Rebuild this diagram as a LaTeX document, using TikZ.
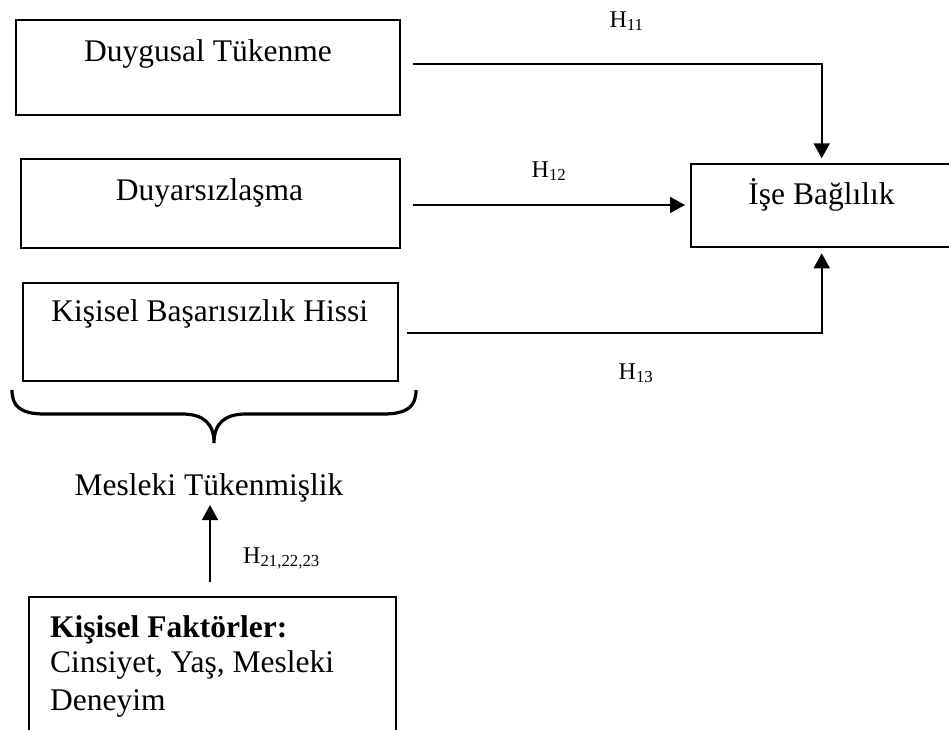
\documentclass[tikz,border=0pt]{standalone}
\usepackage{fontspec}
\setmainfont{Liberation Serif}
\usetikzlibrary{arrows.meta}
\tikzset{
  box/.style={draw, line width=1.8pt, rectangle, inner sep=0pt},
  txt/.style={inner sep=0pt, anchor=base, font=\fontsize{31.5}{36}\selectfont},
  ltxt/.style={inner sep=0pt, anchor=base west, font=\fontsize{31.5}{36}\selectfont},
  hlab/.style={inner sep=0pt, anchor=base, font=\fontsize{24}{28}\selectfont},
  arr/.style={line width=1.7pt, -{Triangle[length=15pt,width=16pt]}},
}
\begin{document}
\begin{tikzpicture}[x=1pt,y=-1pt]
\useasboundingbox (0,0) rectangle (949,729);
\clip (0,0) rectangle (949,729);
\fill[white] (0,0) rectangle (949,729);
% boxes
\node[box, minimum width=384pt, minimum height=95pt] (b1) at (208,67.5) {};
\node[box, minimum width=379.3pt, minimum height=88.7pt] (b2) at (210.3,203.3) {};
\node[box, minimum width=375.6pt, minimum height=98.3pt] (b3) at (210.5,331.8) {};
\node[box, minimum width=269.3pt, minimum height=83.3pt] (ise) at (825.3,205.7) {};
\node[box, minimum width=367pt, minimum height=143pt] (kf) at (212.5,668.5) {};
% texts
\node[txt] (t1) at (208,61.7) {Duygusal Tükenme};
\node[txt] (t2) at (209.5,200) {Duyarsızlaşma};
\node[txt] (t3) at (209.7,321.7) {Kişisel Başarısızlık Hissi};
\node[txt] (tise) at (821.5,204) {İşe Bağlılık};
\node[txt] (mt) at (209,495) {Mesleki Tükenmişlik};
\node[ltxt] (kf1) at (50,637) {\bfseries Kişisel Faktörler:};
\node[ltxt] (kf2) at (50,672) {Cinsiyet, Yaş, Mesleki};
\node[ltxt] (kf3) at (50,710) {Deneyim};
% hypothesis labels
\node[hlab] (h11) at (626.5,27) {H\textsubscript{11}};
\node[hlab] (h12) at (549,177) {H\textsubscript{12}};
\node[hlab] (h13) at (636,379) {H\textsubscript{13}};
\node[inner sep=0pt, anchor=base west, font=\fontsize{24}{28}\selectfont] (h2) at (243,563) {H\textsubscript{21,22,23}};
% brace
\draw[line width=3.2pt] (12,390) .. controls (12,406) and (20,414) .. (45,414) -- (182,414)
  .. controls (204,414) and (214,424) .. (214,443)
  .. controls (214,424) and (224,414) .. (246,414) -- (383,414)
  .. controls (408,414) and (416,406) .. (416,390);
% connectors
\coordinate (c1s) at (413,64.3);
\coordinate (c1e) at (821.7,158.3);
\coordinate (c2s) at (413,205);
\coordinate (c2e) at (685,205);
\coordinate (c3s) at (407,333.3);
\coordinate (c3e) at (821.7,253.3);
\coordinate (v1s) at (210,581.7);
\coordinate (v1e) at (210,505);
\draw[arr] (c1s) -| (c1e);
\draw[arr] (c2s) -- (c2e);
\draw[arr] (c3s) -| (c3e);
\draw[arr] (v1s) -- (v1e);
\end{tikzpicture}
\end{document}
